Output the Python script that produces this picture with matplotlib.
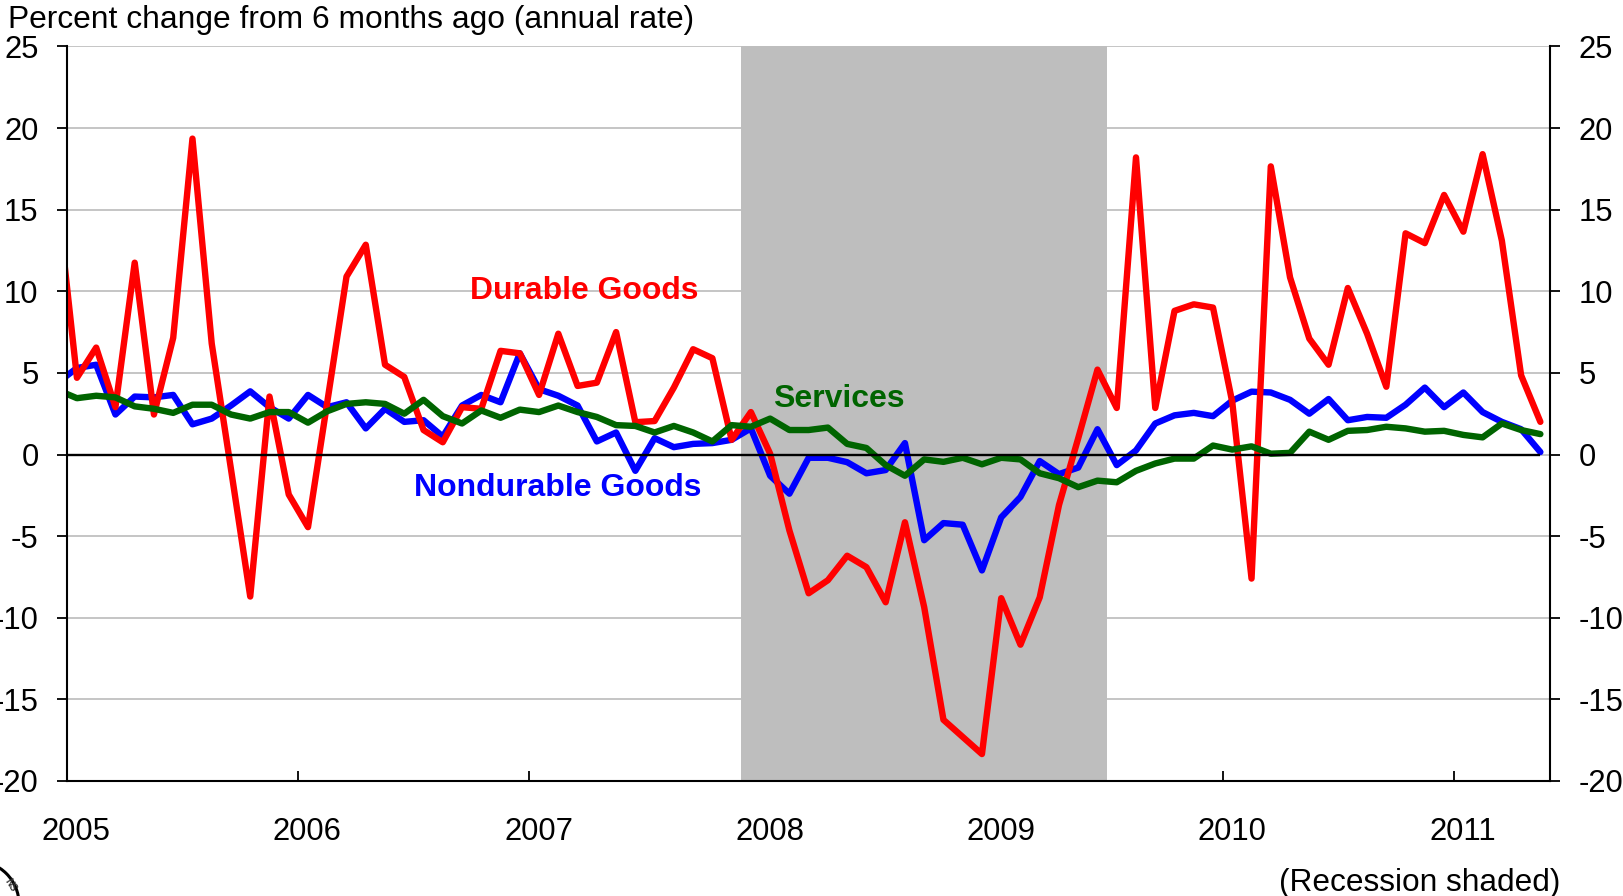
# personal consumption chart: durable, nondurable and services, monthly
import numpy as np
import matplotlib
matplotlib.use("Agg")
import matplotlib.pyplot as plt
from matplotlib.patches import Circle
from matplotlib.transforms import ScaledTranslation

plt.rcParams['font.family'] = ['Liberation Sans', 'DejaVu Sans']

# monthly values, Dec 2004 to May 2011
durable = [15.5, 4.7, 6.55, 2.9, 11.75, 2.45, 7.15, 19.35, 6.8, -0.9, -8.7, 3.55, -2.45,
           -4.45, 3.2, 10.9, 12.85, 5.5, 4.75, 1.5, 0.75, 2.9, 2.8, 6.35, 6.2,
           3.65, 7.4, 4.2, 4.4, 7.5, 1.98, 2.05, 4.1, 6.45, 5.9, 0.9, 2.6,
           0.05, -4.65, -8.5, -7.7, -6.2, -6.9, -9.05, -4.15, -9.35, -16.25, -17.3, -18.35,
           -8.8, -11.65, -8.75, -3.1, 1.0, 5.2, 2.85, 18.2, 2.85, 8.8, 9.2, 9.0,
           3.2, -7.6, 17.65, 10.85, 7.1, 5.5, 10.2, 7.4, 4.15, 13.55, 12.95, 15.9,
           13.65, 18.4, 13.1, 4.85, 2.0]
nondurable = [4.4, 5.3, 5.5, 2.45, 3.55, 3.5, 3.65, 1.85, 2.2, 3.0, 3.87, 2.9, 2.2,
              3.65, 2.9, 3.2, 1.6, 2.8, 2.0, 2.1, 1.1, 3.0, 3.65, 3.2, 6.2,
              4.0, 3.6, 3.0, 0.8, 1.35, -1.0, 1.0, 0.45, 0.65, 0.7, 0.9, 1.6,
              -1.3, -2.4, -0.2, -0.2, -0.47, -1.15, -0.95, 0.7, -5.25, -4.2, -4.3, -7.1,
              -3.85, -2.6, -0.4, -1.2, -0.8, 1.55, -0.65, 0.25, 1.9, 2.4, 2.55, 2.35,
              3.3, 3.85, 3.8, 3.35, 2.5, 3.4, 2.1, 2.3, 2.25, 3.05, 4.1, 2.9,
              3.8, 2.6, 2.0, 1.55, 0.15]
services = [3.95, 3.45, 3.6, 3.5, 2.95, 2.8, 2.55, 3.05, 3.05, 2.45, 2.2, 2.6, 2.6,
            1.95, 2.65, 3.1, 3.2, 3.1, 2.5, 3.35, 2.35, 1.9, 2.7, 2.25, 2.75,
            2.6, 3.0, 2.6, 2.3, 1.8, 1.75, 1.35, 1.75, 1.35, 0.8, 1.8, 1.7,
            2.2, 1.5, 1.5, 1.65, 0.65, 0.4, -0.65, -1.3, -0.3, -0.45, -0.2, -0.6,
            -0.2, -0.3, -1.15, -1.45, -2.0, -1.6, -1.7, -1.0, -0.55, -0.25, -0.25, 0.55,
            0.3, 0.5, 0.05, 0.1, 1.4, 0.9, 1.45, 1.5, 1.7, 1.6, 1.4, 1.45,
            1.2, 1.05, 1.9, 1.5, 1.25]

years = ['2005', '2006', '2007', '2008', '2009', '2010', '2011']
y_ticks = [-20, -15, -10, -5, 0, 5, 10, 15, 20, 25]
recession = (35, 54)  # months since Jan 2005

W, H = 1623, 896
fig = plt.figure(figsize=(W / 100, H / 100), dpi=100)
ax = fig.add_axes([67.3 / W, 1 - 781 / H, (1550 - 67.3) / W, (781 - 46.4) / H])

# points sit in the middle of each month, first one is cut off by the axis
months = np.arange(len(durable)) - 0.5

ax.axvspan(recession[0], recession[1], color='#BEBEBE', lw=0, zorder=2)
for values, col, z in [(nondurable, '#0000FF', 4), (durable, '#FF0000', 5), (services, '#006400', 6)]:
    ax.plot(months, values, color=col, lw=4.6, zorder=z, solid_joinstyle='round', solid_capstyle='round')
ax.plot([0, months[-1]], [0, 0], color='black', lw=1.7, zorder=6.5, solid_capstyle='butt')

ax.set_xlim(0, 77)
ax.set_ylim(-20, 25)
ax.set_yticks(y_ticks)
ax.set_yticklabels([str(v) for v in y_ticks])
ax.set_xticks(np.arange(len(years)) * 12)
ax.set_xticklabels(years)

ax.grid(axis='y', color='#C0C0C0', lw=1.3, zorder=1)
ax.set_axisbelow(True)
ax.spines['top'].set_visible(False)
for side in ['left', 'right', 'bottom']:
    ax.spines[side].set_linewidth(1.5)
    ax.spines[side].set_zorder(7)

ax.tick_params(axis='y', direction='out', length=7.2, width=1.3, pad=13.5, labelsize=22.3,
               left=True, right=True, labelleft=True, labelright=True)
ax.tick_params(axis='x', direction='in', length=7.2, width=1.3, pad=25.8, labelsize=22.3)

# year labels sit a little right of their ticks
shift = ScaledTranslation(9 / 100, 0, fig.dpi_scale_trans)
for lab in ax.get_xticklabels():
    lab.set_transform(lab.get_transform() + shift)

ax.text(20.9, 9.5, 'Durable Goods', color='#FF0000', fontsize=22.95, fontweight='bold', zorder=8)
ax.text(18.0, -2.55, 'Nondurable Goods', color='#0000FF', fontsize=23.05, fontweight='bold', zorder=8)
ax.text(36.65, 2.9, 'Services', color='#006400', fontsize=23, fontweight='bold', zorder=8)

fig.text(8 / W, 1 - 28 / H, 'Percent change from 6 months ago (annual rate)', fontsize=22.9, color='black')
fig.text(1560.5 / W, 1 - 891 / H, '(Recession shaded)', fontsize=22.8, color='black', ha='right')

# corner of the seal that is cut off at the bottom left
fig.add_artist(Circle((-24 / 100, (H - 904) / 100), 43 / 100, transform=fig.dpi_scale_trans,
                      fill=False, ec='black', lw=2.2))
fig.text(3 / W, 1 - 892 / H, 'NS', fontsize=7, fontweight='bold', rotation=-58, color='#333333')

fig.savefig('out.png', dpi=100)
